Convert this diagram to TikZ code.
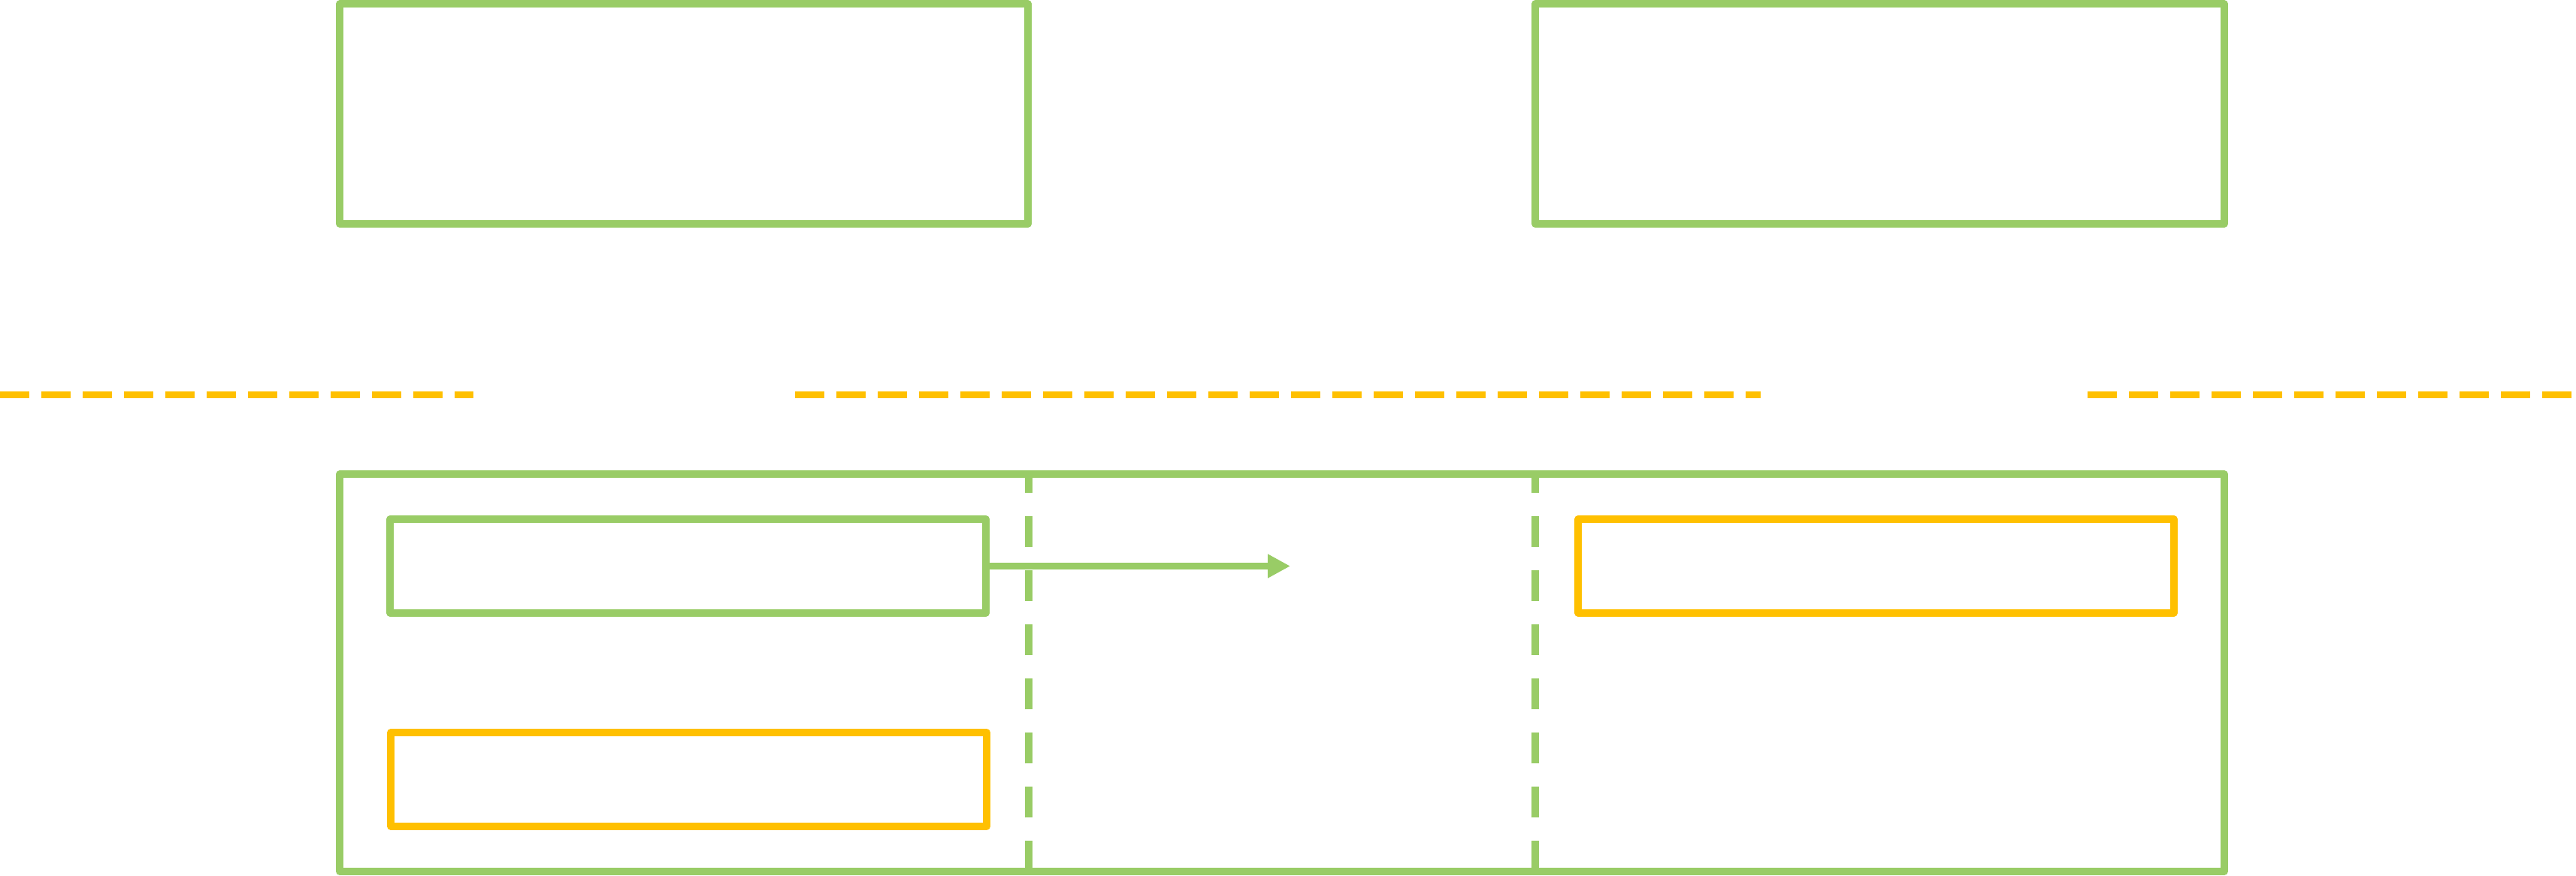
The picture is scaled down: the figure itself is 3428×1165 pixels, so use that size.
\documentclass[tikz,border=0pt]{standalone}
\usetikzlibrary{arrows.meta}
\definecolor{lgreen}{HTML}{99CC66}
\definecolor{lyellow}{HTML}{FFC000}
\begin{document}
\begin{tikzpicture}[x=1pt,y=-1pt,
  gbox/.style={draw=lgreen,line width=9.5pt,line join=round,rectangle,inner sep=0pt,outer sep=0pt},
  ybox/.style={draw=lyellow,line width=9.5pt,line join=round,rectangle,inner sep=0pt,outer sep=0pt},
  ydash/.style={draw=lyellow,line width=9pt,dash pattern=on 39pt off 16pt},
  gdash/.style={draw=lgreen,line width=9.5pt,dash pattern=on 41pt off 31pt},
  garrow/.style={draw=lgreen,line width=9.5pt,-{Triangle[length=30pt,width=30pt]}}]
\useasboundingbox (0,0) rectangle (3428,1165);
\fill[white] (0,0) rectangle (3428,1165);
% top boxes
\node[gbox,minimum width=916pt,minimum height=293pt] (tl) at (910,151.5) {};
\node[gbox,minimum width=917pt,minimum height=293pt] (tr) at (2501.5,151.5) {};
% yellow dashed boundary
\coordinate (y1a) at (0,525);    \coordinate (y1b) at (630,525);
\coordinate (y2a) at (1058,525); \coordinate (y2b) at (2343,525);
\coordinate (y3a) at (2778,525); \coordinate (y3b) at (3428,525);
\draw[ydash] (y1a) -- (y1b);
\draw[ydash] (y2a) -- (y2b);
\draw[ydash] (y3a) -- (y3b);
% lower box
\node[gbox,minimum width=2508pt,minimum height=529pt] (main) at (1706,895.5) {};
% dashed dividers
\coordinate (d1b) at (1369,1160); \coordinate (d1t) at (1369,631);
\coordinate (d2b) at (2043,1160); \coordinate (d2t) at (2043,631);
\draw[gdash] (d1b) -- (d1t);
\draw[gdash] (d2b) -- (d2t);
% inner boxes
\node[gbox,minimum width=793pt,minimum height=125pt] (src) at (915.5,753.5) {};
\node[ybox,minimum width=793pt,minimum height=125pt] (ly) at (916.5,1037.5) {};
\node[ybox,minimum width=793pt,minimum height=125pt] (ry) at (2496.5,753.5) {};
% arrow
\coordinate (tip) at (1717,753.5);
\draw[garrow] (src.east) -- (tip);
\end{tikzpicture}
\end{document}
